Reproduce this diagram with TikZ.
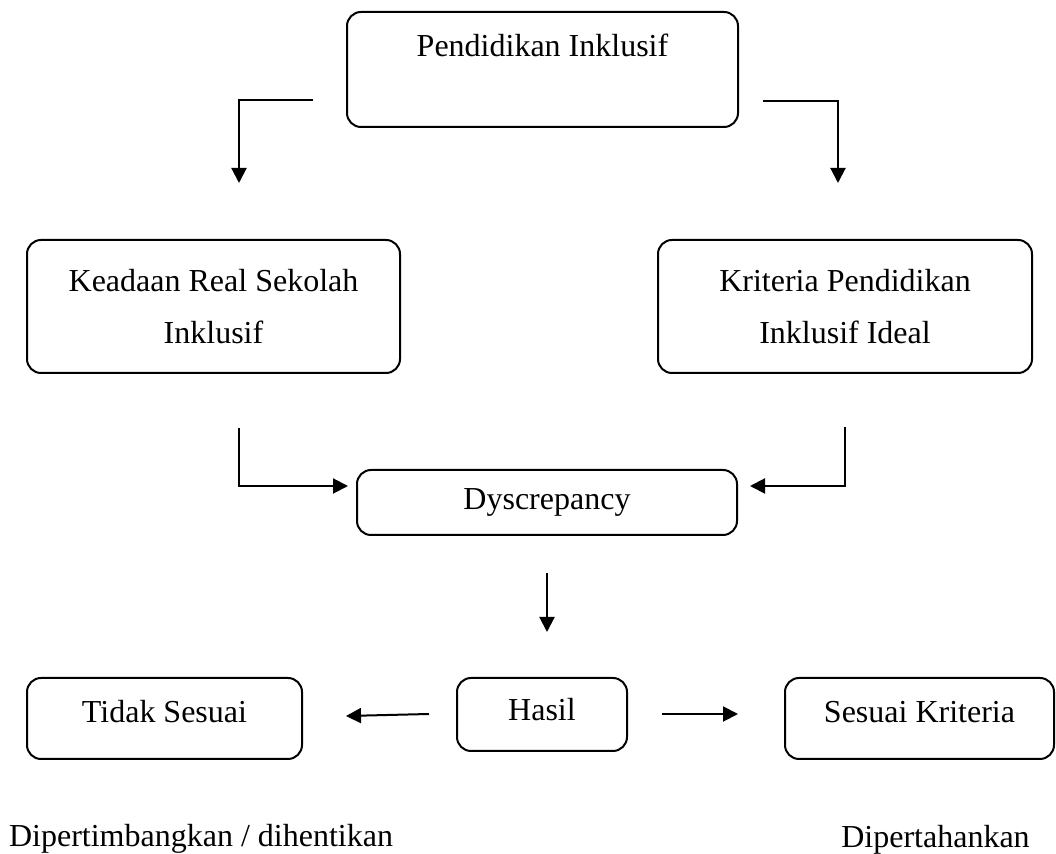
\documentclass[tikz,border=0pt]{standalone}
\usepackage{fontspec}
\setmainfont{Liberation Serif}
\usetikzlibrary{positioning}
\usetikzlibrary{arrows.meta}

\begin{document}
\begin{tikzpicture}[->,>={Triangle[length=7.5pt,width=7.5pt]},line width=1pt,
                    x=0.5pt,y=-0.5pt,
                    box/.style={draw,rounded corners=7pt,align=center,
                      font=\fontsize{16}{26}\selectfont},
                    onebox/.style={box,inner ysep=0pt},
                    plain/.style={font=\fontsize{16}{19}\selectfont,anchor=base}]
\useasboundingbox (0,0) rectangle (1056,854);
\node[onebox,minimum width=195.5pt,
      text height=22.5pt,text depth=35pt] (pend) at (542.5,69.5) {Pendidikan Inklusif};
\node[box,minimum width=186.5pt,minimum height=66.5pt] (real) at (213.5,306.5) {Keadaan Real Sekolah\\Inklusif};
\node[box,minimum width=187pt,minimum height=66.5pt] (ideal) at (845,306.5) {Kriteria Pendidikan\\Inklusif Ideal};
\node[box,minimum width=190pt,minimum height=32.5pt] (dys) at (547,502.5) {Dyscrepancy};
\node[onebox,minimum width=85pt,
      text height=21.5pt,text depth=15pt] (hasil) at (542,714.5) {Hasil};
\node[onebox,minimum width=137.5pt,
      text height=22.5pt,text depth=18pt] (tidak) at (164.5,718.5) {Tidak Sesuai};
\node[onebox,minimum width=134.5pt,
      text height=22.5pt,text depth=18pt] (sesuai) at (919.5,718.5) {Sesuai Kriteria};
\node[plain] (henti) at (201,847) {Dipertimbangkan / dihentikan};
\node[plain] (tahan) at (935.5,848) {Dipertahankan};
% loose ends of the arrows
\coordinate (pl) at (313,100);  \coordinate (rl) at (239,183);
\coordinate (pr) at (763,101);  \coordinate (rr) at (838,183);
\coordinate (ql) at (239,428);  \coordinate (dl) at (348,486);
\coordinate (qr) at (845,427);  \coordinate (dr) at (750,486);
\coordinate (da) at (547,573);  \coordinate (hb) at (547,632);
\coordinate (hl) at (429,714);  \coordinate (tl) at (346,716);
\coordinate (hr) at (662,714);  \coordinate (sr) at (738,714);
\draw (pl) -| (rl);
\draw (pr) -| (rr);
\draw (ql) |- (dl);
\draw (qr) |- (dr);
\draw (da) -- (hb);
\draw (hl) -- (tl);
\draw (hr) -- (sr);
\end{tikzpicture}
\end{document}
